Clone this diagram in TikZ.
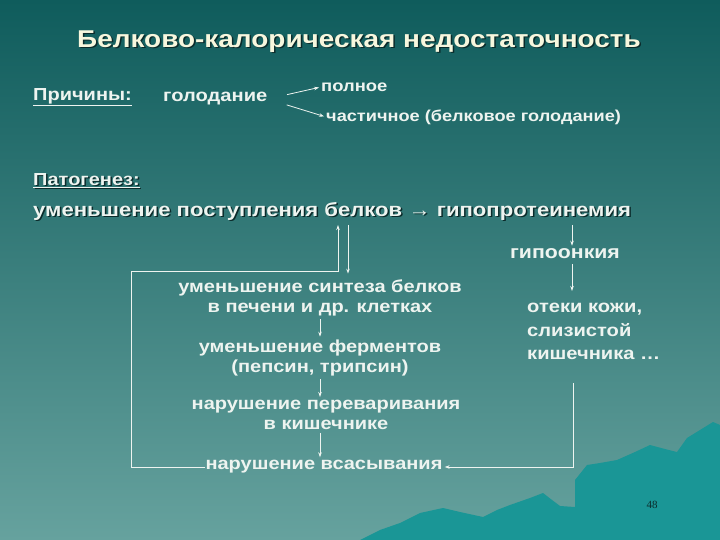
\documentclass[tikz,border=0pt]{standalone}
\usepackage{fontspec}
\setmainfont{Liberation Sans}[FakeStretch=1.15]
\newfontfamily\pagefont{Liberation Serif}
\usetikzlibrary{positioning,arrows.meta}

\definecolor{txt}{HTML}{EEF4F0}
\definecolor{ttl}{HTML}{F7F7DE}
\definecolor{shd}{HTML}{0B2B2B}
\definecolor{bgtop}{HTML}{0F5C5C}
\definecolor{bgbot}{HTML}{66A29E}
\definecolor{hill}{HTML}{1A9696}

\newcommand\shadowed[1]{\makebox[0pt][l]{\hspace{1.5pt}\raisebox{-1.5pt}{\color{shd}#1}}#1}

\begin{document}
\begin{tikzpicture}[x=1pt, y=-1pt,
    lbl/.style = {text=txt, inner sep=0pt, font=\bfseries\fontsize{17.4}{20}\selectfont},
    arr/.style = {draw=txt, line width=0.8pt, -{Stealth[length=5pt,width=3.5pt]}}]
        % background and hills
        \shade[top color=bgtop, bottom color=bgbot] (0,0) rectangle (720,540);
        \fill[hill] (360,540) -- (380,530) -- (400,523) -- (420,513) -- (443,508) -- (460,512)
              -- (483,517) -- (497,510) -- (510,505) -- (530,498) -- (543,493) -- (552,500)
              -- (560,506) -- (575,507) -- (575,480) -- (587,465) -- (600,463) -- (617,460)
              -- (635,452) -- (650,445) -- (665,449) -- (677,452) -- (687,438) -- (700,430)
              -- (713,422) -- (720,425) -- (720,540) -- cycle;

        \node[lbl, text=ttl, font=\bfseries\fontsize{24.3}{28}\selectfont] at (359,42) (title) {\shadowed{Белково-калорическая недостаточность}};

        \node[lbl, anchor=west] at ( 33, 97) (prich) {\underline{Причины:}};
        \node[lbl, anchor=west, font=\bfseries\fontsize{17.5}{20}\selectfont] at (163, 99) (golod) {голодание};
        \node[lbl, anchor=west, font=\bfseries\fontsize{16}{20}\selectfont] at (321, 87) (poln)  {полное};
        \node[lbl, anchor=west, font=\bfseries\fontsize{15.8}{20}\selectfont] at (326,117) (chast) {частичное (белковое голодание)};

        \node[lbl, anchor=west] at ( 33,181) (patog) {\shadowed{\underline{Патогенез:}}};
        \node[lbl, anchor=west, font=\bfseries\fontsize{19.2}{22}\selectfont] at (33,212) (supply) {\shadowed{уменьшение поступления белков}};
        \node[lbl, anchor=base west, font=\bfseries\fontsize{19.2}{22}\selectfont, xshift=2.5pt] at (supply.base east) (hypo) {\shadowed{\hspace{3.5pt}→ гипопротеинемия}};

        \node[lbl, font=\bfseries\fontsize{18.5}{22}\selectfont] at (565,254) (gipo) {гипоонкия};
        \node[lbl, anchor=north west, align=left, font=\bfseries\fontsize{17.5}{23.5}\selectfont] at (527,303) (oteki) {отеки кожи,\\слизистой\\кишечника …};

        \node[lbl, align=center] at (320,298) (synth)  {уменьшение синтеза белков\\в печени и др. клетках};
        \node[lbl, align=center] at (320,358) (ferm)   {уменьшение ферментов\\(пепсин, трипсин)};
        \node[lbl, align=center] at (326,415) (digest) {нарушение переваривания\\в кишечнике};
        \node[lbl]               at (324,467) (absorb) {нарушение всасывания};

        \node[text=shd, font=\pagefont\fontsize{11}{13}\selectfont] at (652,505) (page) {48};

        \coordinate (lb) at (131,467);
        \coordinate (lt) at (131,271);
        \coordinate (rt) at (573,383);
        \coordinate (rb) at (573,467);

        \draw[arr, shorten <=20pt, shorten >=2pt] (golod.east) -- (poln.west);
        \draw[arr, shorten <=20pt, shorten >=2pt] (golod.east) -- (chast.west);

        \draw[arr, shorten <=3pt, shorten >=3pt] (synth.south) -- (synth.south |- ferm.north);
        \draw[arr, shorten <=3pt, shorten >=3pt] (synth.south |- ferm.south) -- (synth.south |- digest.north);
        \draw[arr, shorten <=3pt, shorten >=3pt] (synth.south |- digest.south) -- (synth.south |- absorb.north);

        \draw[arr, shorten <=3pt, shorten >=6pt] (348,0 |- supply.south) -- (348,0 |- synth.north);
        \draw[arr, shorten >=3pt] (absorb.west) -- (lb) -- (lt) -- (338,271) -- (338,0 |- supply.south);

        \draw[arr, shorten <=3pt, shorten >=3pt] (572,0 |- hypo.south) -- (572,0 |- gipo.north);
        \draw[arr, shorten <=5pt, shorten >=12pt] (572,0 |- gipo.south) -- (572,0 |- oteki.north);
        \draw[arr, shorten >=2pt] (rt) -- (rb) -- (absorb.east);
      \end{tikzpicture}
\end{document}
